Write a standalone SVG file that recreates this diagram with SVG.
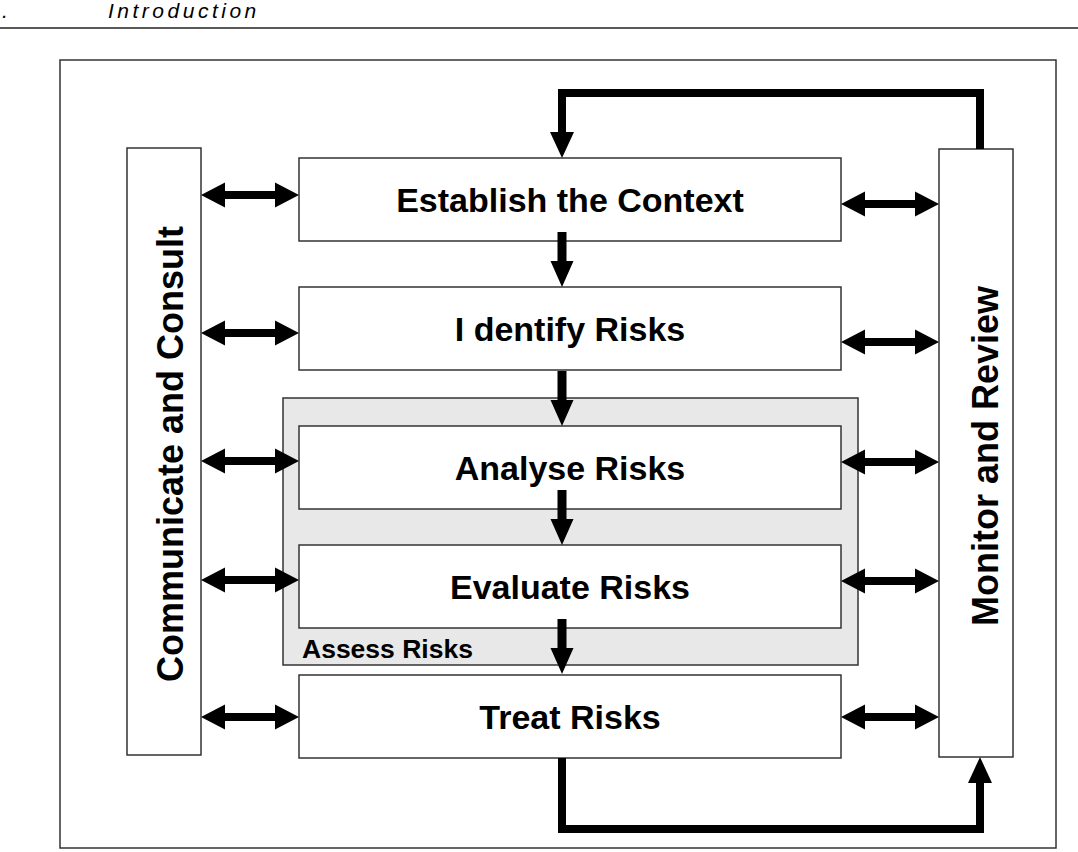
<svg xmlns="http://www.w3.org/2000/svg" width="1078" height="852" viewBox="0 0 1078 852">
<style>
.box{fill:#fff;stroke:#333;stroke-width:1.5}
.lbl{font-family:"Liberation Sans",Arial,sans-serif;font-weight:bold;font-size:34px;fill:#000;text-anchor:middle}
.vlbl{font-family:"Liberation Sans",Arial,sans-serif;font-weight:bold;font-size:36px;fill:#000;text-anchor:middle}
.loop{fill:none;stroke:#000;stroke-width:8;stroke-linejoin:miter}
.hdr{font-family:"Liberation Sans",Arial,sans-serif;font-style:italic;font-size:21px;fill:#000}
</style>
<defs>
<path id="dbl" d="M0,0 L24,-12.5 L24,-4 L74,-4 L74,-12.5 L98,0 L74,12.5 L74,4 L24,4 L24,12.5 Z" fill="#000"/>
<path id="down" d="M-4.5,0 L4.5,0 L4.5,29 L11.5,29 L0,55 L-11.5,29 L-4.5,29 Z" fill="#000"/>
</defs>
<rect width="1078" height="852" fill="#fff"/>
<g id="header">
<text class="hdr" x="2" y="18">.</text>
<text class="hdr" x="108" y="18" letter-spacing="3.5">Introduction</text>
<line x1="0" y1="28" x2="1078" y2="28" stroke="#222" stroke-width="1.5"/>
</g>
<rect id="frame" x="60" y="60" width="996" height="788" fill="none" stroke="#333" stroke-width="1.5"/>
<g id="assess">
<rect x="283" y="398" width="575" height="267" fill="#e8e8e8" stroke="#333" stroke-width="1.5"/>
<text x="302" y="658" font-family="Liberation Sans, Arial, sans-serif" font-weight="bold" font-size="26.5" fill="#000">Assess Risks</text>
</g>
<g id="communicate">
<rect class="box" x="127" y="148" width="74" height="607" stroke="#555"/>
<text class="vlbl" transform="translate(183,454) rotate(-90)">Communicate and Consult</text>
</g>
<g id="monitor">
<rect class="box" x="939" y="149" width="74" height="608" stroke="#555"/>
<text class="vlbl" transform="translate(998,456) rotate(-90)">Monitor and Review</text>
</g>
<g id="establish">
<rect class="box" x="299" y="158" width="542" height="83"/>
<text class="lbl" x="570" y="211.5">Establish the Context</text>
</g>
<g id="identify">
<rect class="box" x="299" y="287" width="542" height="83"/>
<text class="lbl" x="570" y="340.5">I dentify Risks</text>
</g>
<g id="analyse">
<rect class="box" x="299" y="426" width="542" height="83"/>
<text class="lbl" x="570" y="479.5">Analyse Risks</text>
</g>
<g id="evaluate">
<rect class="box" x="299" y="545" width="542" height="83"/>
<text class="lbl" x="570" y="598.5">Evaluate Risks</text>
</g>
<g id="treat">
<rect class="box" x="299" y="675" width="542" height="83"/>
<text class="lbl" x="570" y="728.5">Treat Risks</text>
</g>
<g id="connectors">
<use href="#dbl" transform="translate(201,195)"/>
<use href="#dbl" transform="translate(201,333)"/>
<use href="#dbl" transform="translate(201,461)"/>
<use href="#dbl" transform="translate(201,580)"/>
<use href="#dbl" transform="translate(201,717)"/>
<use href="#dbl" transform="translate(841,204)"/>
<use href="#dbl" transform="translate(841,342)"/>
<use href="#dbl" transform="translate(841,462)"/>
<use href="#dbl" transform="translate(841,581)"/>
<use href="#dbl" transform="translate(841,717)"/>
<use href="#down" transform="translate(562,232)"/>
<use href="#down" transform="translate(562,371)"/>
<use href="#down" transform="translate(562,490)"/>
<use href="#down" transform="translate(562,619)"/>
<polyline class="loop" points="980,149 980,93 562,93 562,134"/>
<polygon points="550,132 574,132 562,158" fill="#000"/>
<polyline class="loop" points="562,758 562,829 980,829 980,781"/>
<polygon points="968,783 992,783 980,757" fill="#000"/>
</g>
</svg>
